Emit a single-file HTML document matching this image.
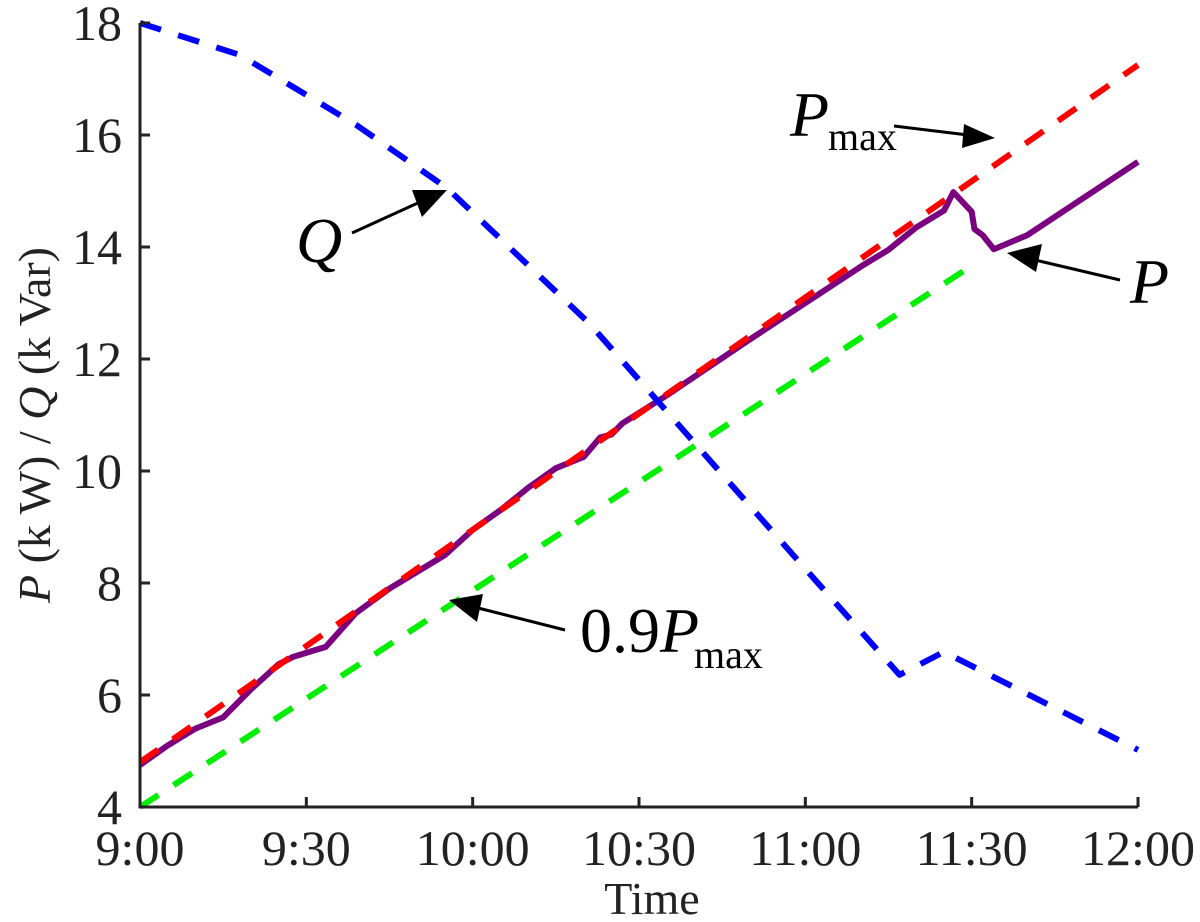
<!DOCTYPE html>
<html><head><meta charset="utf-8"><style>
html,body{margin:0;padding:0;background:#fff;}
svg{display:block;font-family:"Liberation Serif",serif;}
</style></head><body>
<svg id="chart" width="1200" height="922" viewBox="0 0 1200 922" xmlns="http://www.w3.org/2000/svg">
<g id="series"></g>
<g id="axes"></g>
<g id="annot" fill="#000">
  <g>
    <text x="296" y="262" font-size="64" font-style="italic">Q</text>
    <line x1="352" y1="233" x2="420" y2="202" stroke="#000" stroke-width="3"/>
    <polygon points="447,190 412,190 422,217" fill="#000"/>
  </g>
  <g>
    <text x="790" y="136" font-size="64" font-style="italic">P</text>
    <text x="828" y="150" font-size="40">max</text>
    <line x1="894" y1="126" x2="968" y2="135" stroke="#000" stroke-width="3"/>
    <polygon points="995,138 964,124 962,148" fill="#000"/>
  </g>
  <g>
    <text x="1130" y="303" font-size="64" font-style="italic">P</text>
    <line x1="1120" y1="280" x2="1035" y2="260" stroke="#000" stroke-width="3"/>
    <polygon points="1007,253 1042,244 1036,272" fill="#000"/>
  </g>
  <g>
    <text x="580" y="652" font-size="64">0.9<tspan font-style="italic">P</tspan></text>
    <text x="694" y="668" font-size="40">max</text>
    <line x1="565" y1="630" x2="478" y2="608" stroke="#000" stroke-width="3"/>
    <polygon points="449,600 483,594 477,622" fill="#000"/>
  </g>
</g>
</svg>
<script>
const tMin = [0,30,60,90,120,150,180];
const tickLabels = ["9:00","9:30","10:00","10:30","11:00","11:30","12:00"];
const yTicks = [4,6,8,10,12,14,16,18];
const qT = [0,18,39,55.4,81,121,137,145,180];
const qV = [18,17.43,16.18,15.05,12.64,8.14,6.36,6.77,5.02];
const pmaxT = [0,180];
const pmaxV = [4.8,17.25];
const p09T = [0,151];
const p09V = [4.0,13.73];
const pT = [0,5,10,15,20,25,27.6,33.5,38.9,45,55,60,65,70,75,80,83,85,87,95,110,120,130,135,140,145,146.7,150,150.5,152,154,160,180];
const pV = [4.75,5.1,5.4,5.6,6.1,6.55,6.68,6.86,7.46,7.9,8.5,8.95,9.3,9.7,10.05,10.25,10.6,10.65,10.85,11.35,12.35,13.0,13.65,13.95,14.35,14.65,14.98,14.63,14.32,14.21,13.96,14.21,15.52];

const X0=140,X1=1138,Y0=807,Y1=23;
const sx=t=>X0+(t/180)*(X1-X0);
const sy=v=>Y0-(v-4)/14*(Y0-Y1);
const NS="http://www.w3.org/2000/svg";
const series=document.getElementById('series');
const axes=document.getElementById('axes');

function line(ts,vs,color,dash,name){
  const p=document.createElementNS(NS,'polyline');
  p.setAttribute('points',ts.map((t,i)=>sx(t)+','+sy(vs[i])).join(' '));
  p.setAttribute('fill','none');
  p.setAttribute('stroke',color);
  p.setAttribute('stroke-width','6');
  p.setAttribute('stroke-linejoin','round');
  if(dash)p.setAttribute('stroke-dasharray',dash);
  
  
  series.appendChild(p);
}
line(p09T,p09V,'#00ee00','22 18','series-0.9pmax');
line(pT,pV,'#7a0080',null,'series-p');
line(pmaxT,pmaxV,'#ff0000','22 18','series-pmax');
line(qT,qV,'#0000ff','22 18','series-q');

function el(tag,attrs,txt){const e=document.createElementNS(NS,tag);for(const k in attrs)e.setAttribute(k,attrs[k]);if(txt)e.textContent=txt;axes.appendChild(e);return e;}
const ax=el('path',{d:`M${X0},${Y1} L${X0},${Y0} L${X1},${Y0}`,fill:'none',stroke:'#222','stroke-width':3});


tMin.forEach((t,i)=>{
  const tk=el('line',{x1:sx(t),x2:sx(t),y1:Y0,y2:Y0-10,stroke:'#222','stroke-width':3});
  
  
  const lb=el('text',{x:sx(t),y:Y0+58,'font-size':50,'text-anchor':'middle',fill:'#222'},tickLabels[i]);
  
  
});
yTicks.forEach(v=>{
  const tk=el('line',{x1:X0,x2:X0+10,y1:sy(v),y2:sy(v),stroke:'#222','stroke-width':3});
  
  
  const lb=el('text',{x:X0-18,y:sy(v)+17,'font-size':50,'text-anchor':'end',fill:'#222'},String(v));
  
  
});
const xt=el('text',{x:652,y:914,'font-size':46,'text-anchor':'middle',fill:'#222'},'Time');


const yt=el('text',{x:0,y:0,'font-size':46,'text-anchor':'middle',fill:'#222',transform:'translate(50,425) rotate(-90)'});
yt.innerHTML='<tspan font-style="italic">P</tspan> (k W) / <tspan font-style="italic">Q</tspan> (k Var)';


</script>
</body></html>
